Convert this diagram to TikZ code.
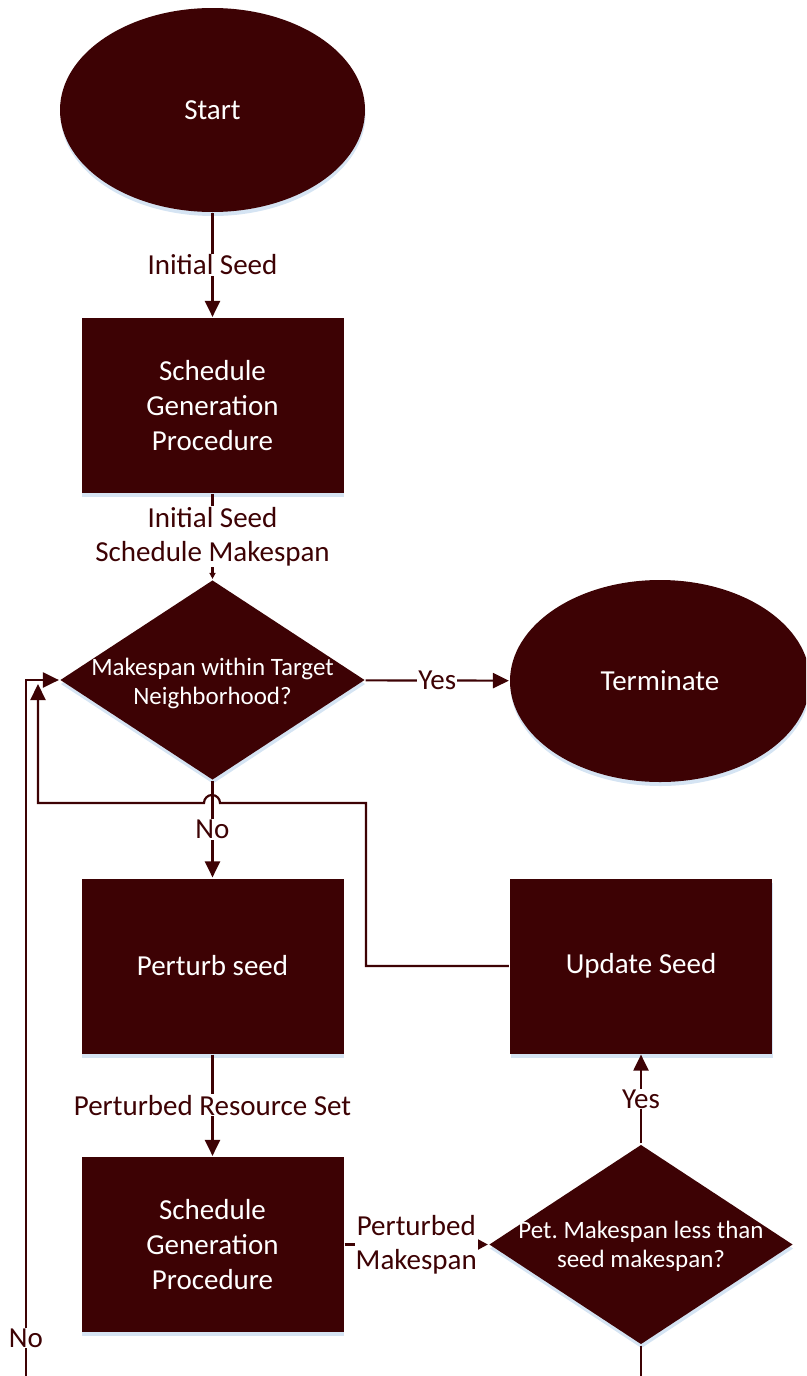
\documentclass[tikz,border=0pt]{standalone}
\usepackage{fontspec}
\setmainfont{Carlito}
\usetikzlibrary{shapes.geometric, arrows.meta, shadows}
\definecolor{maroon}{RGB}{61,2,4}
\definecolor{shadowblue}{RGB}{213,228,243}

\begin{document}
\begin{tikzpicture}[x=1pt, y=-1pt, color=maroon, line width=2.2pt,
    >={Triangle[length=16pt, width=15pt]},
    blob/.style={fill=maroon, text=white, inner sep=0pt,
        drop shadow={shadow xshift=.5pt, shadow yshift=-4pt, fill=shadowblue, opacity=1}},
    oval/.style={blob, ellipse, minimum width=305pt, minimum height=204pt, font=\fontsize{29}{35}\selectfont},
    block/.style={blob, rectangle, minimum width=262pt, minimum height=175pt, align=center, font=\fontsize{29}{35}\selectfont},
    test/.style={blob, diamond, minimum width=305pt, minimum height=200pt},
    testtext/.style={text=white, align=center, font=\fontsize{25}{29}\selectfont},
    lbl/.style={fill=white, align=center, inner sep=1pt, font=\fontsize{29}{34}\selectfont},
    smalltip/.style={-{Triangle[length=#1pt, width=#1pt]}}
]
\clip (0,0) rectangle (806,1376);

\node[oval] (start) at (212.5,110) {Start};
\node[oval, minimum width=300pt, minimum height=202pt] (term) at (660,681) {Terminate};

\foreach \n/\x/\y/\t in {sgpa/212.5/405.5/{Schedule\\Generation\\Procedure}, pert/212.5/966/{Perturb seed},
    sgpb/212.5/1244.5/{Schedule\\Generation\\Procedure}, upd/641/966/{Update Seed}}
{
    \node[block] (\n) at (\x,\y) {\t};
}

\node[test] (d1) at (212.5,680) {};
\node[testtext] (d1t) at (212.5,683) {Makespan within Target\\Neighborhood?};
\node[test, minimum width=304pt] (d2) at (641,1244.5) {};
\node[testtext] (d2t) at (641,1246) {Pet.\ Makespan less than\\seed makespan?};

\draw[->] (start) -- node[lbl] (l1) {Initial Seed} (sgpa);
\draw[smalltip=6] (sgpa) -- node[lbl] (l2) {Initial Seed\\Schedule Makespan} (d1);
\draw[->] (d1) -- node[lbl] (l3) {Yes} (term);
\draw[->] (d1) -- node[lbl] (l4) {No} (pert);
\draw[->] (pert) -- node[lbl] (l5) {Perturbed Resource Set} (sgpb);
\draw[smalltip=10] (sgpb) -- node[lbl] (l6) {Perturbed\\Makespan} (d2);
\draw[->] (d2) -- node[lbl] (l7) {Yes} (upd);

\draw[->] (upd.west) -| (366,803) -- (220,803) arc[start angle=0, end angle=180, radius=8pt] -- (38,803) -- (38,684);
\draw[->] (d2.south) -- (641,1400) -| (26,1338) node[lbl] (l8) {No} |- (d1.west);

\end{tikzpicture}
\end{document}
